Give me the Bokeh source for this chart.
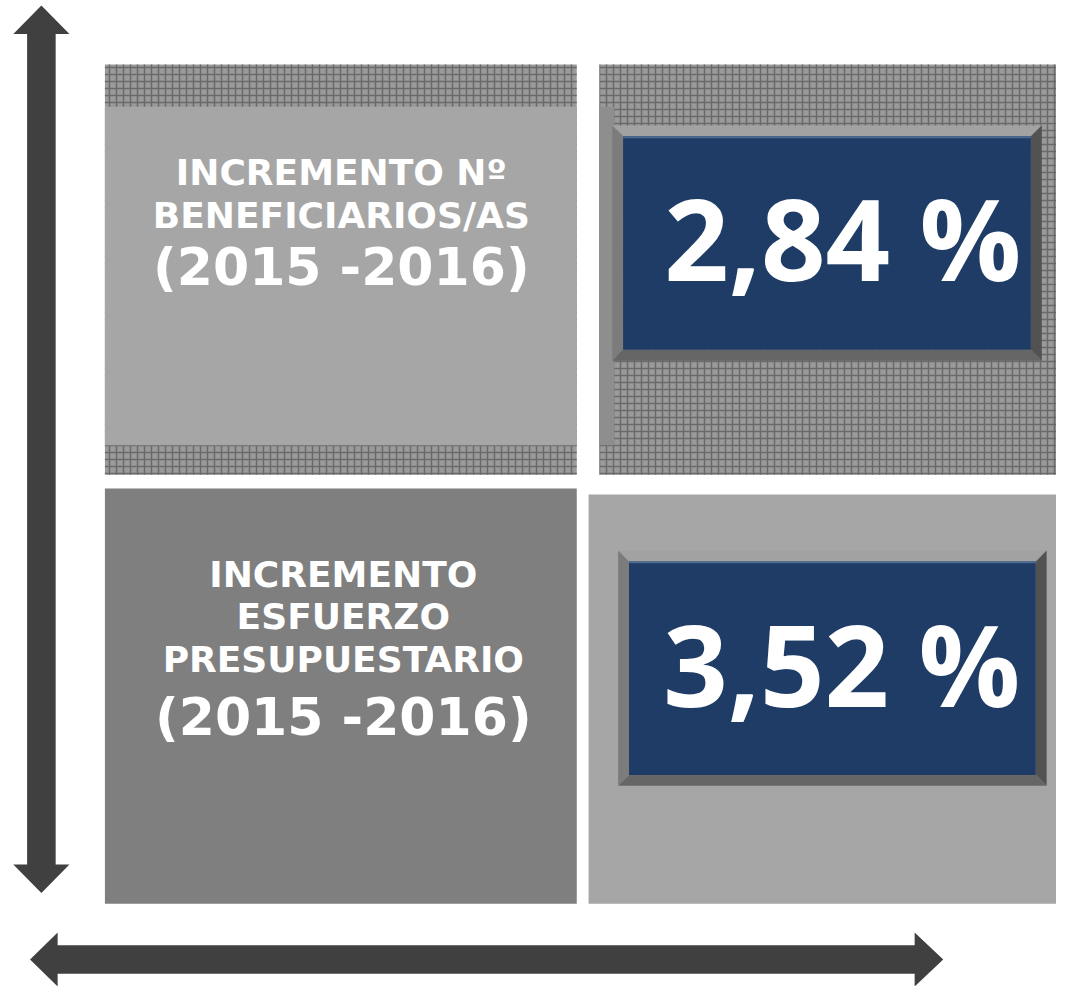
from bokeh.plotting import figure
from bokeh.models import Range1d
from bokeh.core.properties import value
from bokeh.embed import file_html
from bokeh.resources import INLINE

# ---- data ----
indicators = ["beneficiarios", "esfuerzo"]
label_lines = [
    ["INCREMENTO Nº", "BENEFICIARIOS/AS"],
    ["INCREMENTO", "ESFUERZO", "PRESUPUESTARIO"],
]
period_labels = ["(2015 -2016)", "(2015 -2016)"]
increase_pct = [2.84, 3.52]

# ---- layout (reference pixel coordinates) ----
DARK = "#404040"
BLUE = "#1e3c66"

p = figure(width=1056, height=986, x_range=Range1d(0, 1072), y_range=Range1d(1002, 0),
           output_backend="svg", toolbar_location=None, min_border=0)
p.axis.visible = False
p.grid.visible = False
p.outline_line_color = None
p.background_fill_color = "white"
p.border_fill_color = "white"

# arrows
p.patch([41.5, 70, 56, 56, 70, 41.5, 13, 27, 27, 13],
        [5, 34, 34, 878, 878, 907, 878, 878, 34, 34],
        fill_color=DARK, line_color=None)
p.patch([30, 58, 58, 928, 928, 957, 928, 928, 58, 58],
        [974.5, 947, 960, 960, 947, 974.5, 1002, 989, 989, 1002],
        fill_color=DARK, line_color=None)

TEX = dict(fill_color="#9a9a9a", hatch_pattern="cross", hatch_color="#6a6a6a",
           hatch_scale=7, hatch_weight=1.5, line_color=None)

# top-left box
p.quad(left=106, right=585, top=65, bottom=482, **TEX)
p.quad(left=106, right=585, top=108, bottom=452, fill_color="#a6a6a6", line_color=None)

# top-right box
p.quad(left=608, right=1072, top=65, bottom=482, **TEX)
p.quad(left=608, right=623, top=108, bottom=452, fill_color="#8e8e8e", line_color=None)

# bottom boxes
p.quad(left=106, right=585, top=496, bottom=918, fill_color="#7f7f7f", line_color=None)
p.quad(left=597, right=1072, top=502, bottom=918, fill_color="#a6a6a6", line_color=None)


def bevel_box(x0, x1, y0, y1, b):
    xi0, xi1, yi0, yi1 = x0 + b, x1 - b, y0 + b, y1 - b
    p.patch([x0, x1, xi1, xi0], [y0, y0, yi0, yi0], fill_color="#a2a2a2", line_color=None)
    p.patch([x0, xi0, xi0, x0], [y0, yi0, yi1, y1], fill_color="#7c7c7c", line_color=None)
    p.patch([x1, x1, xi1, xi1], [y0, y1, yi1, yi0], fill_color="#525252", line_color=None)
    p.patch([x0, x1, xi1, xi0], [y1, y1, yi1, yi1], fill_color="#666666", line_color=None)
    p.quad(left=xi0, right=xi1, top=yi0, bottom=yi1, fill_color=BLUE, line_color=None)
    p.quad(left=xi0, right=xi1, top=yi0, bottom=yi0 + 2, fill_color="#4d6a90", line_color=None)


boxes = [(621, 1057, 127, 366), (627, 1062, 559, 798)]
for (x0, x1, y0, y1) in boxes:
    bevel_box(x0, x1, y0, y1, 11)

# labels
label_x = [346, 348]
line_baselines = [[175, 218], [583, 626, 670]]
period_baselines = [271, 728]
for i in range(len(indicators)):
    p.text(x=[label_x[i]] * len(label_lines[i]), y=line_baselines[i], text=label_lines[i],
           text_font=value("DejaVu Sans"), text_font_style="bold", text_font_size="36px",
           text_color="white", text_align="center", text_baseline="alphabetic")
    p.text(x=[label_x[i]], y=[period_baselines[i]], text=[period_labels[i]],
           text_font=value("DejaVu Sans"), text_font_style="bold", text_font_size="52px",
           text_color="white", text_align="center", text_baseline="alphabetic")

num_text = [f"{v:.2f}".replace(".", ",") + " %" for v in increase_pct]
p.text(x=[855, 854], y=[240, 673], text=num_text,
       text_font=value("Open Sans"), text_font_style="bold", text_font_size="113px",
       text_color="white", text_align="center", text_baseline="alphabetic")

open("out.html", "w").write(file_html(p, INLINE))
